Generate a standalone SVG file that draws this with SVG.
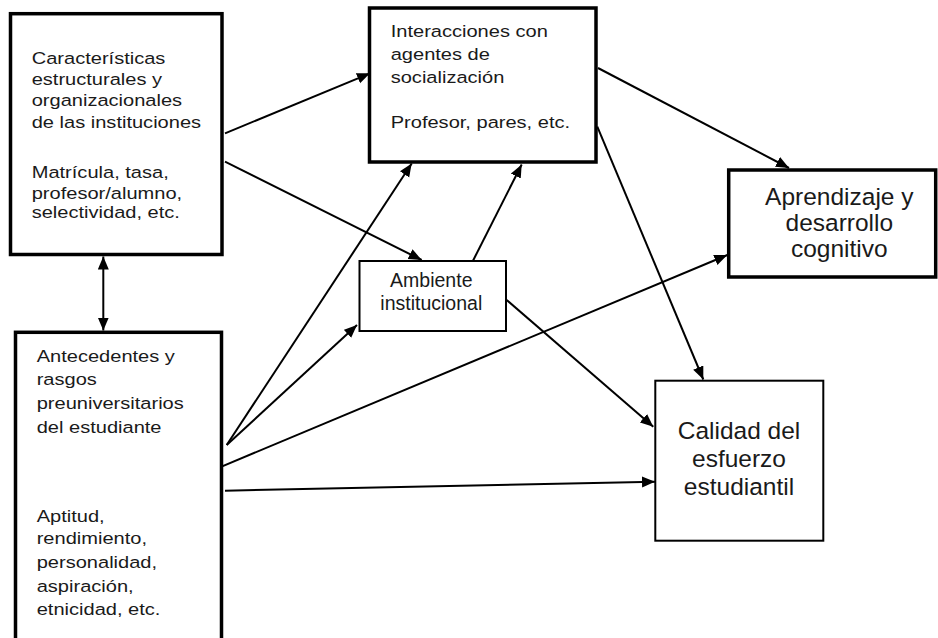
<svg xmlns="http://www.w3.org/2000/svg" width="938" height="638" viewBox="0 0 938 638">
<style>
.box{fill:#fff;stroke:#000;stroke-width:3.5}
.thin{fill:#fff;stroke:#000;stroke-width:2}
.t{font-family:"Liberation Sans",Arial,sans-serif;font-size:17px;fill:#1a1a1a}
.c{font-family:"Liberation Sans",Arial,sans-serif;fill:#1a1a1a;text-anchor:middle}
.conn line{stroke:#000;stroke-width:2;fill:none;marker-end:url(#ah)}
</style>
<defs>
<marker id="ah" markerUnits="userSpaceOnUse" markerWidth="14" markerHeight="12" refX="13" refY="5.5" orient="auto-start-reverse">
<path d="M0,0 L13,5.5 L0,11 z" fill="#000"/>
</marker>
</defs>
<rect width="938" height="638" fill="#fff"/>
<g id="conectores" class="conn">
<line x1="225" y1="133.3" x2="370" y2="73.3"/>
<line x1="225" y1="161.7" x2="421.7" y2="260"/>
<line x1="226.7" y1="445" x2="411.7" y2="163.5"/>
<line x1="226.7" y1="445" x2="357" y2="325"/>
<line x1="215" y1="469.3" x2="727.3" y2="255"/>
<line x1="225" y1="490.7" x2="655" y2="481.7"/>
<line x1="471.7" y1="263.3" x2="521.7" y2="164.5"/>
<line x1="506.7" y1="300" x2="653.3" y2="426.7"/>
<line x1="598" y1="68" x2="789" y2="168"/>
<line x1="597.3" y1="126.7" x2="703.3" y2="379.5"/>
<line x1="103.3" y1="256.5" x2="103.3" y2="330.5" style="marker-start:url(#ah)"/>
</g>
<g id="caracteristicas">
<rect class="box" x="10.5" y="13.7" width="211.5" height="240.8"/>
<text class="t" transform="translate(31.7,64.3) scale(1.18,1)"><tspan x="0" y="0">Características</tspan><tspan x="0" y="20.8">estructurales y</tspan><tspan x="0" y="41.7">organizacionales</tspan><tspan x="0" y="63.4">de las instituciones</tspan><tspan x="0" y="114">Matrícula, tasa,</tspan><tspan x="0" y="135">profesor/alumno,</tspan><tspan x="0" y="154">selectividad, etc.</tspan></text>
</g>
<g id="interacciones">
<rect class="box" x="369.5" y="8" width="226.5" height="154"/>
<text class="t" transform="translate(390.7,36.7) scale(1.18,1)"><tspan x="0" y="0">Interacciones con</tspan><tspan x="0" y="23.3">agentes de</tspan><tspan x="0" y="46.6">socialización</tspan><tspan x="0" y="91.6">Profesor, pares, etc.</tspan></text>
</g>
<g id="aprendizaje">
<rect class="box" x="728.7" y="170" width="207" height="107"/>
<text class="c" font-size="24.5"><tspan x="839.3" y="205">Aprendizaje y</tspan><tspan x="839.3" y="231">desarrollo</tspan><tspan x="839.3" y="257">cognitivo</tspan></text>
</g>
<g id="ambiente">
<rect class="thin" x="359.5" y="261" width="146.5" height="70"/>
<text class="c" font-size="19.5"><tspan x="431.3" y="286.7">Ambiente</tspan><tspan x="431.3" y="310">institucional</tspan></text>
</g>
<g id="antecedentes">
<rect class="box" x="15.5" y="332.3" width="206" height="320"/>
<text class="t" transform="translate(36.7,361.7) scale(1.18,1)"><tspan x="0" y="0">Antecedentes y</tspan><tspan x="0" y="23">rasgos</tspan><tspan x="0" y="47.5">preuniversitarios</tspan><tspan x="0" y="71.5">del estudiante</tspan><tspan x="0" y="160">Aptitud,</tspan><tspan x="0" y="182.7">rendimiento,</tspan><tspan x="0" y="206.6">personalidad,</tspan><tspan x="0" y="230">aspiración,</tspan><tspan x="0" y="253.5">etnicidad, etc.</tspan></text>
</g>
<g id="calidad">
<rect class="thin" x="655.3" y="380.7" width="168" height="160"/>
<text class="c" font-size="24.5"><tspan x="739" y="439.3">Calidad del</tspan><tspan x="739" y="467">esfuerzo</tspan><tspan x="739" y="495">estudiantil</tspan></text>
</g>
</svg>
